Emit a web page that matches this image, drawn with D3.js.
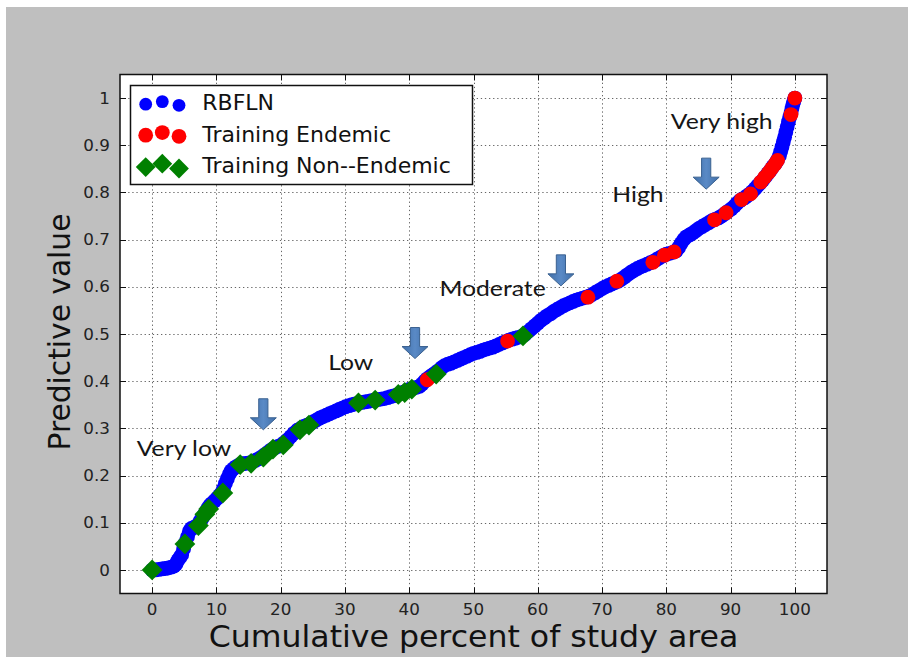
<!DOCTYPE html>
<html>
<head>
<meta charset="utf-8">
<script src="https://cdn.jsdelivr.net/npm/d3@7"></script>
<style>
  html, body { margin: 0; padding: 0; background: #ffffff; }
  svg { display: block; }
</style>
</head>
<body>
<svg id="chart" width="908" height="657"></svg>
<script>
// RBFLN predictive value against cumulative percent of study area
const rbflnX = [0, 0.5, 1, 1.5, 2, 2.5, 3, 3.4, 3.7, 4.0, 4.3, 4.6, 4.9, 5.2, 5.5, 5.8, 6.1, 6.5, 6.9, 7.2,
  7.5, 7.8, 8.1, 8.4, 8.7, 9.0, 9.3, 9.7, 10.1, 10.5, 10.8, 11.1, 11.4, 11.7, 12.0, 12.3, 12.7, 13.1, 13.6, 14.1,
  14.6, 15.1, 15.6, 16.1, 16.6, 17.1, 17.6, 18.1, 18.6, 19.1, 19.6, 20.1, 20.6, 21.1, 21.6, 22.1, 22.6, 23.1, 23.6, 24.1,
  24.6, 25.1, 25.6, 26.1, 26.6, 27.1, 27.6, 28.1, 28.6, 29.1, 29.6, 30.1, 30.6, 31.1, 31.6, 32.1, 32.6, 33.1, 33.6, 34.1,
  34.6, 35.1, 35.6, 36.1, 36.6, 37.1, 37.6, 38.1, 38.6, 39.1, 39.6, 40.1, 40.6, 41.1, 41.6, 42.0, 42.4, 42.8, 43.2, 43.6,
  44.0, 44.5, 45.0, 45.5, 46.0, 46.5, 47.0, 47.5, 48.0, 48.5, 49.0, 49.5, 50.0, 50.5, 51.0, 51.5, 52.0, 52.5, 53.0, 53.5,
  54.0, 54.5, 55.0, 55.5, 56.0, 56.5, 57.0, 57.5, 58.0, 58.5, 59.0, 59.5, 60.0, 60.5, 61.0, 61.5, 62.0, 62.5, 63.0, 63.5,
  64.0, 64.5, 65.0, 65.5, 66.0, 66.5, 67.0, 67.5, 68.0, 68.5, 69.0, 69.5, 70.0, 70.5, 71.0, 71.5, 72.0, 72.5, 73.0, 73.5,
  74.0, 74.5, 75.0, 75.5, 76.0, 76.5, 77.0, 77.5, 78.0, 78.5, 79.0, 79.5, 80.0, 80.5, 81.0, 81.5, 81.9, 82.3, 82.7, 83.1,
  83.6, 84.1, 84.6, 85.1, 85.6, 86.1, 86.6, 87.1, 87.6, 88.1, 88.6, 89.1, 89.6, 90.1, 90.6, 91.0, 91.4, 91.8, 92.2, 92.6,
  93.0, 93.4, 93.8, 94.2, 94.6, 95.0, 95.4, 95.8, 96.2, 96.6, 97.0, 97.3, 97.6, 97.8, 98.0, 98.2, 98.4, 98.6, 98.8, 99.0,
  99.2, 99.4, 99.55, 99.7, 99.85, 100];
const rbflnY = [0, 0, 0.001, 0.002, 0.003, 0.004, 0.006, 0.008, 0.012, 0.02, 0.026, 0.032, 0.045, 0.058, 0.07, 0.082, 0.088, 0.09, 0.093, 0.097,
  0.104, 0.11, 0.117, 0.124, 0.131, 0.137, 0.141, 0.146, 0.152, 0.158, 0.163, 0.172, 0.183, 0.193, 0.203, 0.21, 0.215, 0.219, 0.223, 0.225,
  0.226, 0.227, 0.229, 0.232, 0.236, 0.24, 0.245, 0.25, 0.255, 0.259, 0.262, 0.265, 0.27, 0.276, 0.283, 0.29, 0.296, 0.3, 0.304, 0.307,
  0.31, 0.314, 0.318, 0.322, 0.325, 0.328, 0.331, 0.334, 0.337, 0.34, 0.343, 0.346, 0.348, 0.35, 0.352, 0.353, 0.355, 0.356, 0.357, 0.359,
  0.36, 0.361, 0.362, 0.363, 0.365, 0.367, 0.369, 0.371, 0.374, 0.377, 0.38, 0.383, 0.385, 0.387, 0.389, 0.394, 0.4, 0.405, 0.409, 0.413,
  0.417, 0.422, 0.428, 0.433, 0.436, 0.438, 0.441, 0.444, 0.447, 0.45, 0.453, 0.456, 0.459, 0.461, 0.463, 0.466, 0.468, 0.47, 0.472, 0.475,
  0.478, 0.481, 0.484, 0.487, 0.489, 0.491, 0.493, 0.495, 0.499, 0.505, 0.511, 0.517, 0.523, 0.529, 0.534, 0.539, 0.543, 0.548, 0.552, 0.556,
  0.56, 0.563, 0.566, 0.569, 0.572, 0.574, 0.576, 0.578, 0.58, 0.584, 0.588, 0.592, 0.596, 0.6, 0.603, 0.606, 0.609, 0.612, 0.616, 0.621,
  0.626, 0.631, 0.635, 0.639, 0.642, 0.645, 0.648, 0.651, 0.654, 0.658, 0.662, 0.666, 0.669, 0.671, 0.673, 0.676, 0.683, 0.692, 0.7, 0.706,
  0.71, 0.714, 0.719, 0.724, 0.728, 0.732, 0.736, 0.74, 0.743, 0.746, 0.75, 0.755, 0.76, 0.765, 0.771, 0.777, 0.782, 0.786, 0.789, 0.793,
  0.797, 0.802, 0.808, 0.814, 0.82, 0.826, 0.833, 0.84, 0.847, 0.855, 0.862, 0.869, 0.878, 0.887, 0.897, 0.907, 0.917, 0.928, 0.939, 0.95,
  0.96, 0.969, 0.978, 0.987, 0.994, 1.0];

// Training sites, endemic
const endemicX = [42.8, 55.3, 67.8, 72.3, 77.9, 79.7, 81.2, 87.5, 89.3, 91.7, 93.1, 94.7, 95.3, 95.9, 96.4, 96.9, 97.3, 99.4, 100];
const endemicY = [0.403, 0.485, 0.578, 0.612, 0.652, 0.667, 0.674, 0.742, 0.757, 0.785, 0.797, 0.822, 0.832, 0.842, 0.851, 0.86, 0.868, 0.965, 1.0];

// Training sites, non-endemic
const nonEndemicX = [0, 5.1, 7.2, 8.2, 8.8, 11.0, 13.7, 15.4, 17.3, 18.8, 20.4, 23.0, 24.4, 32.1, 34.7, 38.3, 39.3, 40.4, 44.2, 57.7];
const nonEndemicY = [0, 0.055, 0.094, 0.118, 0.129, 0.163, 0.223, 0.226, 0.239, 0.256, 0.265, 0.297, 0.307, 0.354, 0.36, 0.372, 0.376, 0.383, 0.415, 0.496];

// Axis ticks
const xTicks = [0, 10, 20, 30, 40, 50, 60, 70, 80, 90, 100];
const yTicks = [0, 0.1, 0.2, 0.3, 0.4, 0.5, 0.6, 0.7, 0.8, 0.9, 1];
const yTickLabels = ["0", "0.1", "0.2", "0.3", "0.4", "0.5", "0.6", "0.7", "0.8", "0.9", "1"];

// Class annotations and arrows (data coordinates)
const classNames = ["Very low", "Low", "Moderate", "High", "Very high"];
const classLabelX = [-2.4, 27.4, 44.7, 71.6, 80.7];
const classLabelY = [0.241, 0.423, 0.58, 0.78, 0.934];
const arrowTipX = [17.3, 40.9, 63.6, 86.2];
const arrowTipY = [0.297, 0.448, 0.602, 0.807];

const seriesNames = ["RBFLN", "Training Endemic", "Training Non--Endemic"];

const svg = d3.select("#chart");
const W = 908, H = 657;
const plot = { left: 120, top: 74.5, right: 827, bottom: 593.5 };

const x = d3.scaleLinear().domain([-5, 105]).range([plot.left, plot.right]);
const y = d3.scaleLinear().domain([-0.05, 1.05]).range([plot.bottom, plot.top]);

const axisFont = "DejaVu Sans, Liberation Sans, sans-serif";

// horizontal stretch for text via textLength
function stretch(sel, k) {
  sel.each(function () {
    const w = this.getComputedTextLength();
    d3.select(this).attr("textLength", w * k).attr("lengthAdjust", "spacingAndGlyphs");
  });
}

// figure background
svg.append("rect").attr("x", 0).attr("y", 0).attr("width", W).attr("height", H).attr("fill", "#ffffff");
svg.append("rect").attr("x", 6).attr("y", 7).attr("width", W - 6).attr("height", H - 7).attr("fill", "#bfbfbf");

// axes background
svg.append("rect")
  .attr("x", plot.left).attr("y", plot.top)
  .attr("width", plot.right - plot.left).attr("height", plot.bottom - plot.top)
  .attr("fill", "#ffffff");

// grid
const grid = svg.append("g").attr("stroke", "#333").attr("stroke-width", 1)
  .attr("stroke-dasharray", "1.3,2.8").attr("opacity", 0.75);
grid.selectAll("line.gx").data(xTicks).join("line")
  .attr("x1", d => Math.round(x(d)) + 0.5).attr("x2", d => Math.round(x(d)) + 0.5)
  .attr("y1", plot.top).attr("y2", plot.bottom);
grid.selectAll("line.gy").data(yTicks).join("line")
  .attr("y1", d => Math.round(y(d)) + 0.5).attr("y2", d => Math.round(y(d)) + 0.5)
  .attr("x1", plot.left).attr("x2", plot.right);

// data layers, clipped to axes
svg.append("clipPath").attr("id", "clip").append("rect")
  .attr("x", plot.left).attr("y", plot.top)
  .attr("width", plot.right - plot.left).attr("height", plot.bottom - plot.top);
const layer = svg.append("g").attr("clip-path", "url(#clip)");

const rbfln = rbflnX.map((v, i) => [v, rbflnY[i]]);
const endemic = endemicX.map((v, i) => [v, endemicY[i]]);
const nonEndemic = nonEndemicX.map((v, i) => [v, nonEndemicY[i]]);

layer.append("g").selectAll("circle").data(rbfln).join("circle")
  .attr("cx", d => x(d[0])).attr("cy", d => y(d[1])).attr("r", 7.4)
  .attr("fill", "#0000ff");

layer.append("g").selectAll("circle").data(endemic).join("circle")
  .attr("cx", d => x(d[0])).attr("cy", d => y(d[1])).attr("r", 7.4)
  .attr("fill", "#ff0000");

const diamond = (cx, cy, r) => `M${cx},${cy - r}L${cx + r},${cy}L${cx},${cy + r}L${cx - r},${cy}Z`;
layer.append("g").selectAll("path").data(nonEndemic).join("path")
  .attr("d", d => diamond(x(d[0]), y(d[1]), 10.4))
  .attr("fill", "#008000");

// axes frame
svg.append("rect")
  .attr("x", plot.left).attr("y", plot.top)
  .attr("width", plot.right - plot.left).attr("height", plot.bottom - plot.top)
  .attr("fill", "none").attr("stroke", "#111").attr("stroke-width", 1.5);

// inward ticks on all four sides
const tickLen = 6;
const ticks = svg.append("g").attr("stroke", "#111").attr("stroke-width", 1);
xTicks.forEach(t => {
  const px = Math.round(x(t)) + 0.5;
  ticks.append("line").attr("x1", px).attr("x2", px).attr("y1", plot.bottom).attr("y2", plot.bottom - tickLen);
  ticks.append("line").attr("x1", px).attr("x2", px).attr("y1", plot.top).attr("y2", plot.top + tickLen);
});
yTicks.forEach(t => {
  const py = Math.round(y(t)) + 0.5;
  ticks.append("line").attr("y1", py).attr("y2", py).attr("x1", plot.left).attr("x2", plot.left + tickLen);
  ticks.append("line").attr("y1", py).attr("y2", py).attr("x1", plot.right).attr("x2", plot.right - tickLen);
});

// tick labels
const xl = svg.append("g").selectAll("text").data(xTicks).join("text")
  .attr("x", d => x(d)).attr("y", 614.5)
  .attr("text-anchor", "middle")
  .attr("font-family", axisFont).attr("font-size", 15.5).attr("fill", "#222")
  .text(d => d);
stretch(xl, 1.08);

const yl = svg.append("g").selectAll("text").data(yTicks).join("text")
  .attr("x", 110).attr("y", d => y(d) + 5.6)
  .attr("text-anchor", "end")
  .attr("font-family", axisFont).attr("font-size", 15.5).attr("fill", "#222")
  .text((d, i) => yTickLabels[i]);
stretch(yl, 1.08);

// axis titles
const xt = svg.append("text")
  .attr("x", (plot.left + plot.right) / 2).attr("y", 646.5)
  .attr("text-anchor", "middle")
  .attr("font-family", axisFont).attr("font-size", 29.5).attr("fill", "#111")
  .text("Cumulative percent of study area");
stretch(xt, 1.07);

svg.append("text")
  .attr("transform", `translate(70,${(plot.top + plot.bottom) / 2 - 2}) rotate(-90)`)
  .attr("text-anchor", "middle")
  .attr("font-family", axisFont).attr("font-size", 29.7).attr("fill", "#111")
  .text("Predictive value");

// class arrows
const arrowPath = (tx, ty) => {
  const hw = 13, sw = 4.6, hh = 12, total = 31;
  return `M${tx},${ty}L${tx - hw},${ty - hh}L${tx - sw},${ty - hh}L${tx - sw},${ty - total}` +
         `L${tx + sw},${ty - total}L${tx + sw},${ty - hh}L${tx + hw},${ty - hh}Z`;
};
const defs = svg.append("defs");
const grad = defs.append("linearGradient").attr("id", "arrowFill").attr("x1", 0).attr("x2", 1).attr("y1", 0).attr("y2", 0);
grad.append("stop").attr("offset", "0%").attr("stop-color", "#3f6ea8");
grad.append("stop").attr("offset", "50%").attr("stop-color", "#5a8ac6");
grad.append("stop").attr("offset", "100%").attr("stop-color", "#3f6ea8");

svg.append("g").selectAll("path").data(arrowTipX).join("path")
  .attr("d", (d, i) => arrowPath(x(d), y(arrowTipY[i])))
  .attr("fill", "url(#arrowFill)").attr("stroke", "#3a6190").attr("stroke-width", 1);

// class labels
const cl = svg.append("g").selectAll("text").data(classNames).join("text")
  .attr("x", (d, i) => x(classLabelX[i])).attr("y", (d, i) => y(classLabelY[i]))
  .attr("font-family", "Lato, Open Sans, sans-serif").attr("font-size", 21.5)
  .attr("fill", "#161616")
  .text(d => d);
stretch(cl, 1.15);

// legend
const lg = svg.append("g");
lg.append("rect").attr("x", 130.5).attr("y", 85.5).attr("width", 342).attr("height", 99)
  .attr("fill", "#ffffff").attr("stroke", "#111").attr("stroke-width", 1.5);
const legendMarkerX = [145.7, 162.3, 179];
const legendRowY = [103, 134, 165.5];
const legendOffsets = [1.2, -1.4, 2.3];
legendMarkerX.forEach((mx, j) => {
  lg.append("circle").attr("cx", mx).attr("cy", legendRowY[0] + legendOffsets[j]).attr("r", 6.4).attr("fill", "#0000ff");
  lg.append("circle").attr("cx", mx).attr("cy", legendRowY[1] + legendOffsets[j]).attr("r", 7.4).attr("fill", "#ff0000");
  lg.append("path").attr("d", diamond(mx, legendRowY[2] + legendOffsets[j] * 1.3, 9.9)).attr("fill", "#008000");
});
const legendBaseline = [110, 141.7, 172.7];
lg.selectAll("text").data(seriesNames).join("text")
  .attr("x", 202.3).attr("y", (d, i) => legendBaseline[i])
  .attr("font-family", axisFont).attr("font-size", 22).attr("fill", "#111")
  .text(d => d);
</script>
</body>
</html>
